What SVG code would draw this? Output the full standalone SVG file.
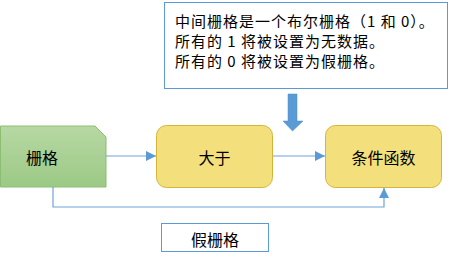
<svg xmlns="http://www.w3.org/2000/svg" width="450" height="261" viewBox="0 0 450 261">
<defs>
<linearGradient id="gGreen" x1="0" y1="0" x2="0" y2="1">
<stop offset="0" stop-color="#b7d8a4"/>
<stop offset="1" stop-color="#9cc985"/>
</linearGradient>
<marker id="arr" viewBox="0 0 10 10" refX="10" refY="5" markerWidth="10" markerHeight="10" markerUnits="userSpaceOnUse" orient="auto">
<path d="M0,0 L10,5 L0,10 Z" fill="#5b9bd5"/>
</marker>
<style>
.t{font-family:"Noto Sans CJK SC","Liberation Sans",sans-serif;fill:#000}
.lbl{font-size:16px;text-anchor:middle;dominant-baseline:central}
.note{font-size:15px;letter-spacing:1px}
.yel{fill:#f3e07c;stroke:#d6b43a;stroke-width:1}
.conn{fill:none;stroke:#6fa3d8;stroke-width:1.2}
.box{fill:#fff;stroke:#5b9bd5;stroke-width:1}
</style>
</defs>
<g id="note">
<rect class="box" x="164.5" y="2.5" width="283" height="86" stroke="#8fb3da"/>
<text class="t note" x="175" y="27">中间栅格是一个布尔栅格（1 和 0）。</text>
<text class="t note" x="175" y="47">所有的 1 将被设置为无数据。</text>
<text class="t note" x="175" y="67">所有的 0 将被设置为假栅格。</text>
</g>
<g id="bigArrow">
<path d="M288,94 L297,94 L297,121 L303,121 L292.5,131 L283,121 L288,121 Z" fill="#5b9bd5" stroke="#4a88c4" stroke-width="0.5"/>
</g>
<g id="raster">
<path d="M0.5,126 L95,126 L106,137 L106,187 L0.5,187 Z" fill="url(#gGreen)" stroke="#8cbd73" stroke-width="1"/>
<text class="t lbl" x="42" y="157">栅格</text>
</g>
<g id="greater">
<rect class="yel" x="156.5" y="125.5" width="116" height="62" rx="10"/>
<text class="t lbl" x="214.5" y="157">大于</text>
</g>
<g id="con">
<rect class="yel" x="325.5" y="125.5" width="116" height="62" rx="10"/>
<text class="t lbl" x="383.5" y="157">条件函数</text>
</g>
<g id="falseRaster">
<rect class="box" x="161.5" y="223.5" width="107" height="28"/>
<text class="t lbl" x="215" y="238.5">假栅格</text>
</g>
<g id="connectors">
<path class="conn" d="M106,156 L156,156" marker-end="url(#arr)"/>
<path class="conn" d="M273,156 L325,156" marker-end="url(#arr)"/>
<path class="conn" d="M53,187 L53,207 L384,207 L384,188" marker-end="url(#arr)"/>
</g>
</svg>
